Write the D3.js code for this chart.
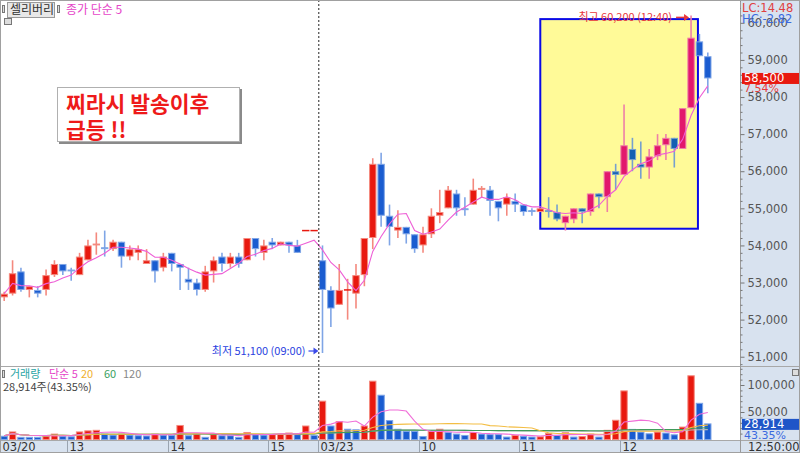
<!DOCTYPE html>
<html><head><meta charset="utf-8">
<script src="https://cdn.jsdelivr.net/npm/d3@7"></script>
<style>
body{margin:0;background:#fff;}
svg{display:block;font-family:"DejaVu Sans","Noto Sans CJK KR",sans-serif;}
</style>
</head><body>
<svg id="c" width="800" height="453"></svg>
<script>
// ---------------- DATA ----------------
const stockName = "셀리버리";
const sessions = [
  {date: "03/20", start: "12:20", count: 38},
  {date: "03/23", start: "09:00", count: 47}
];
const opens  = [52600,52700,53300,52800,52800,52800,53200,53500,53350,53200,53600,54000,53950,53900,54100,53700,53800,53500,53600,53400,53800,53500,53100,53000,52800,53300,53700,53500,53700,53600,54200,53800,54100,54000,54100,54000,54400,54400,
                53600,52800,52400,52800,52700,53200,54200,56200,54800,54400,54500,54300,54000,54300,54800,55000,55400,55000,55100,55500,55500,55200,55100,55200,55100,54950,54900,54950,54900,54600,54700,55000,54900,55400,55300,56000,55900,56600,56200,56100,56400,56700,56900,56600,57700,59500,59100];
const highs  = [52750,53600,53400,52900,52900,53350,53600,53500,53400,53800,54150,54350,54400,54150,54100,54000,54000,53900,53600,53800,53800,53500,53400,53100,53450,53700,53800,53800,53800,54200,54200,54150,54200,54100,54100,54150,54400,54400,
                54000,52900,53500,53100,53500,54200,56350,56500,55100,54950,54500,54300,54500,55000,55500,55600,55500,55300,55800,55600,55600,55200,55400,55400,55100,55000,55000,55300,55100,54800,55000,55000,55400,55400,56000,56200,57800,56900,56800,56600,57000,57000,56900,57700,60200,59700,59200];
const lows   = [52500,52650,52750,52600,52600,52650,53150,53200,53050,53200,53600,53750,53700,53850,53400,53600,53600,53500,53000,53300,53300,52800,52800,52650,52750,53000,53300,53400,53400,53600,53700,53600,53900,54000,53800,53800,54400,54400,
                51100,51800,52400,52000,52300,52900,53900,54500,54000,54200,54050,53800,53800,54200,54600,55000,54800,54800,55100,55300,54800,54650,54800,54900,54800,54800,54900,54750,54650,54400,54600,54600,54800,55000,54900,55500,55900,56000,55800,55800,56300,56300,56100,56600,57700,59100,58100];
const closes = [52700,53250,52800,52900,52700,53200,53500,53300,53300,53700,54000,54050,53900,54100,53700,53900,53900,53600,53300,53700,53500,53400,53000,52800,53300,53600,53500,53700,53500,54200,53900,54000,54000,54100,54000,53800,54400,54400,
                52800,52300,52800,52800,53200,54200,56200,54800,54500,54500,54300,53900,54300,54800,54900,55500,55000,54950,55500,55550,55200,55000,55300,55100,54900,54900,55000,54900,54700,54800,55000,54900,55400,55300,56000,55900,56700,56300,56100,56400,56700,56900,56600,57700,59600,59100,58500];
const volumes = [6000,14000,4000,4000,4000,6000,10000,6000,5000,14000,16000,17000,10000,8000,10000,8000,7000,6500,10000,8000,7500,26000,7000,10000,4000,9000,7000,7000,4000,13000,9000,8000,9000,9500,12000,9000,25000,7500,
                 71000,25000,33000,19000,18000,25000,108000,82000,35000,19000,15000,15000,5600,15000,19000,13000,10000,7500,13000,10000,9000,9000,4500,7500,6000,4500,5000,11000,7500,12500,4500,5500,10000,4500,17000,35600,90000,18700,13700,10600,13700,11900,8700,23000,118000,67000,28914];
const priceTicks = [51000,52000,53000,54000,55000,56000,57000,58000,59000,60000];
const volumeTicks = [50000,100000];
const timeTickIndex  = [0,8,20,32,38,50,62,74];
const timeTickLabels = ["03/20","13","14","15","03/23","10","11","12"];
const lastTimeLabel = "12:50:00";
const highlight = {from: 64, to: 83, low: 54450, high: 60100};
const noteLines = ["찌라시 발송이후", "급등 !!"];
const volumeRatio = "43.35%";
const volumeLegend = [["거래량", "#2aa5a5"], ["단순 5", "#e545c8"], ["20", "#f0b030"], ["60", "#3aa060"], ["120", "#888"]];

// ---------------- SETUP ----------------
const svg = d3.select("#c");
const W = 800, H = 453, plotR = 740, priceBot = 366, volTop = 367, volBot = 440;
const N = closes.length;
const fmt = d3.format(",");

const times = [];
sessions.forEach(s => {
  const [hh, mm] = s.start.split(":").map(Number);
  for (let k = 0; k < s.count; k++) {
    const t = hh * 60 + mm + 5 * k;
    times.push(String(Math.floor(t / 60)).padStart(2, "0") + ":" + String(t % 60).padStart(2, "0"));
  }
});

const x = d3.scaleBand().domain(d3.range(N)).range([0, 712]).paddingInner(0.12).paddingOuter(0.06);
const bw = x.bandwidth();
const cx = i => x(i) + bw / 2;
const slotLeft = i => x(i) - x.step() * 0.06;
const y = d3.scaleLinear().domain([50750, 60615]).range([priceBot, 0]);
const vy = d3.scaleLinear().domain([0, 100000]).range([439, 385]);

const up = [];
for (let i = 0; i < N; i++) {
  if (closes[i] > opens[i]) up.push(true);
  else if (closes[i] < opens[i]) up.push(false);
  else if (i > 0 && closes[i] > closes[i - 1]) up.push(true);
  else if (i > 0 && closes[i] < closes[i - 1]) up.push(false);
  else up.push(i > 0 ? up[i - 1] : true);
}
const inBox = i => i > highlight.from && i < highlight.to;
const COL = {
  red: "#e8190f", redL: "#f4897e", blue: "#1a5cd0", blueL: "#7fa5e6",
  redB: "#e2186c", redBL: "#ee7fa8", blueB: "#1360b2", blueBL: "#76a0cf"
};
function candleColor(i) {
  if (inBox(i)) return up[i] ? [COL.redB, COL.redBL] : [COL.blueB, COL.blueBL];
  return up[i] ? [COL.red, COL.redL] : [COL.blue, COL.blueL];
}
function sma(arr, n) {
  return arr.map((_, i) => d3.mean(arr.slice(Math.max(0, i - n + 1), i + 1)));
}

// ---------------- BACKGROUND ----------------
svg.append("rect").attr("width", W).attr("height", H).attr("fill", "#fff");
svg.append("rect").attr("x", plotR).attr("y", 0).attr("width", W - plotR).attr("height", H).attr("fill", "#d8e2ef");
svg.append("rect").attr("x", 0).attr("y", volBot).attr("width", plotR).attr("height", H - volBot).attr("fill", "#d8e2ef");

svg.append("clipPath").attr("id", "pclip").append("rect").attr("x", 0).attr("y", 0).attr("width", plotR).attr("height", priceBot);
svg.append("clipPath").attr("id", "vclip").append("rect").attr("x", 0).attr("y", volTop).attr("width", plotR).attr("height", volBot - volTop);

const pg = svg.append("g").attr("clip-path", "url(#pclip)");

// highlight box
pg.append("rect")
  .attr("x", cx(highlight.from)).attr("y", y(highlight.high))
  .attr("width", cx(highlight.to) - 1.5 - cx(highlight.from))
  .attr("height", y(highlight.low) - y(highlight.high))
  .attr("fill", "#fffa98").attr("stroke", "#0a0ae6").attr("stroke-width", 2);

// day separator
const dayIdx = sessions[0].count;
svg.append("line").attr("x1", slotLeft(dayIdx) + 0.5).attr("x2", slotLeft(dayIdx) + 0.5)
  .attr("y1", 0).attr("y2", volBot).attr("stroke", "#222").attr("stroke-dasharray", "2,2").attr("stroke-width", 1);

// candles
const cg = pg.append("g");
for (let i = 0; i < N; i++) {
  const [c, cl] = candleColor(i);
  cg.append("line").attr("x1", cx(i)).attr("x2", cx(i)).attr("y1", y(highs[i])).attr("y2", y(lows[i]))
    .attr("stroke", cl).attr("stroke-width", 1.6);
  const top = y(Math.max(opens[i], closes[i])), bot = y(Math.min(opens[i], closes[i]));
  if (bot - top < 1.5) {
    cg.append("line").attr("x1", x(i)).attr("x2", x(i) + bw).attr("y1", (top + bot) / 2).attr("y2", (top + bot) / 2)
      .attr("stroke", c).attr("stroke-width", 1.5);
  } else {
    cg.append("rect").attr("x", x(i) + 0.5).attr("y", top + 0.5).attr("width", bw - 1).attr("height", bot - top - 1)
      .attr("fill", c).attr("stroke", cl).attr("stroke-width", 1);
  }
}
const ma5 = sma(closes, 5);
pg.append("path").datum(ma5)
  .attr("d", d3.line().x((d, i) => cx(i)).y(d => y(d)))
  .attr("fill", "none").attr("stroke", "#ee5fd6").attr("stroke-width", 1.1);

// high / low annotations
const hi = d3.maxIndex(highs), lo = d3.minIndex(lows);
const hy = y(highs[hi]) + 2;
svg.append("text").attr("x", cx(hi) - 19).attr("y", hy).attr("dy", "0.35em").attr("text-anchor", "end")
  .attr("font-family", "Noto Sans CJK KR").attr("font-size", 11).attr("fill", "#e8383c")
  .text("최고 " + fmt(highs[hi]) + " (" + times[hi] + ")");
svg.append("line").attr("x1", cx(hi) - 15).attr("x2", cx(hi) - 6).attr("y1", hy).attr("y2", hy).attr("stroke", "#e8383c").attr("stroke-width", 1.5);
svg.append("path").attr("d", `M${cx(hi) - 7},${hy - 3.5}L${cx(hi) - 2},${hy}L${cx(hi) - 7},${hy + 3.5}Z`).attr("fill", "#e8383c");
const ly = y(lows[lo]) - 2;
svg.append("text").attr("x", cx(lo) - 17).attr("y", ly).attr("dy", "0.35em").attr("text-anchor", "end")
  .attr("font-family", "Noto Sans CJK KR").attr("font-size", 11).attr("fill", "#2a3fe0")
  .text("최저 " + fmt(lows[lo]) + " (" + times[lo] + ")");
svg.append("line").attr("x1", cx(lo) - 14).attr("x2", cx(lo) - 8).attr("y1", ly).attr("y2", ly).attr("stroke", "#5a6af0").attr("stroke-width", 1.5);
svg.append("path").attr("d", `M${cx(lo) - 9},${ly - 3.5}L${cx(lo) - 4},${ly}L${cx(lo) - 9},${ly + 3.5}Z`).attr("fill", "#3a4ae8");

// note box
const nb = svg.append("g");
nb.append("rect").attr("x", 59).attr("y", 89).attr("width", 183).attr("height", 55).attr("fill", "#8a8a8a");
nb.append("rect").attr("x", 57.5).attr("y", 87.5).attr("width", 182).attr("height", 54).attr("fill", "#fff").attr("stroke", "#b0b0b0");
noteLines.forEach((t, k) => {
  nb.append("text").attr("x", 66).attr("y", 112 + k * 26)
    .attr("font-family", "Noto Sans CJK KR").attr("font-weight", "bold").attr("font-size", 21.5)
    .attr("fill", "#ee1a1a").text(t);
});

// ---------------- VOLUME ----------------
const vg = svg.append("g").attr("clip-path", "url(#vclip)");
for (let i = 0; i < N; i++) {
  const upv = i > 0 && volumes[i] > volumes[i - 1];
  const c = upv ? "#e8190f" : "#1a5cd0", cl = upv ? "#f4897e" : "#7fa5e6";
  vg.append("rect").attr("x", x(i) + 0.5).attr("y", vy(volumes[i]) + 0.5)
    .attr("width", bw - 1).attr("height", Math.max(0.5, vy(0) - vy(volumes[i])))
    .attr("fill", c).attr("stroke", cl).attr("stroke-width", 1);
}
const vLine = d3.line().x((d, i) => cx(i)).y(d => vy(d));
[[120, "#b8b8b8"], [60, "#3f9a5a"], [20, "#f3be45"], [5, "#f06fd8"]].forEach(([n, c]) => {
  vg.append("path").datum(sma(volumes, n)).attr("d", vLine).attr("fill", "none").attr("stroke", c).attr("stroke-width", 1.1);
});

// ---------------- AXES ----------------
svg.append("line").attr("x1", 0).attr("x2", W).attr("y1", priceBot + 0.5).attr("y2", priceBot + 0.5).attr("stroke", "#a8a8a8");
svg.append("line").attr("x1", 0).attr("x2", W).attr("y1", volBot + 0.5).attr("y2", volBot + 0.5).attr("stroke", "#a8a8a8");
svg.append("line").attr("x1", plotR + 0.5).attr("x2", plotR + 0.5).attr("y1", 0).attr("y2", H).attr("stroke", "#9a9a9a");

const minorTicks = d3.range(50800, 60601, 200).filter(v => v % 1000 !== 0);
const pa = svg.append("g").attr("transform", `translate(${plotR + 0.5},0)`);
pa.call(d3.axisRight(y).tickValues(minorTicks).tickSize(2).tickFormat(""));
pa.call(g => g.select(".domain").remove());
const pa2 = svg.append("g").attr("transform", `translate(${plotR + 0.5},0)`);
pa2.call(d3.axisRight(y).tickValues(priceTicks).tickSize(4).tickPadding(3).tickFormat(fmt));
pa2.call(g => g.select(".domain").remove());
svg.selectAll(".tick line").attr("stroke", "#777");
pa2.selectAll("text").attr("font-size", 11.5).attr("fill", "#555").attr("font-family", "DejaVu Sans");

const va = svg.append("g").attr("transform", `translate(${plotR + 0.5},0)`);
va.call(d3.axisRight(vy).tickValues(d3.range(10000, 130001, 10000).filter(v => v % 50000)).tickSize(2).tickFormat(""));
va.call(g => g.select(".domain").remove());
const va2 = svg.append("g").attr("transform", `translate(${plotR + 0.5},0)`);
va2.call(d3.axisRight(vy).tickValues(volumeTicks).tickSize(4).tickPadding(3).tickFormat(fmt));
va2.call(g => g.select(".domain").remove());
va.selectAll(".tick line").attr("stroke", "#777");
va2.selectAll(".tick line").attr("stroke", "#777");
va2.selectAll("text").attr("font-size", 11.5).attr("fill", "#555").attr("font-family", "DejaVu Sans");

// LC / HC
const last = closes[N - 1];
const lc = (last - lows[lo]) / lows[lo] * 100, hc = (last - highs[hi]) / highs[hi] * 100;
svg.append("rect").attr("x", plotR + 1).attr("y", 0).attr("width", W - plotR - 1).attr("height", 13).attr("fill", "#d8e2ef");
svg.append("text").attr("x", 742).attr("y", 7.5).attr("dy", "0.35em").attr("font-size", 11.5).attr("fill", "#e04040")
  .attr("font-family", "DejaVu Sans").text("LC:" + lc.toFixed(2));
svg.append("text").attr("x", 742).attr("y", 18.5).attr("dy", "0.35em").attr("font-size", 11.5).attr("fill", "#3a6ae0")
  .attr("font-family", "DejaVu Sans").text("HC:" + hc.toFixed(2));

// current price box
const prevClose = closes[sessions[0].count - 1];
const chg = (last - prevClose) / prevClose * 100;
svg.append("rect").attr("x", 742).attr("y", y(last) - 5.5).attr("width", 58).attr("height", 11).attr("fill", "#e8190f");
svg.append("text").attr("x", 744).attr("y", y(last)).attr("dy", "0.35em").attr("font-size", 11.5).attr("fill", "#fff")
  .attr("font-family", "DejaVu Sans").text(fmt(last));
svg.append("text").attr("x", 744).attr("y", y(last) + 10).attr("dy", "0.35em").attr("font-size", 11).attr("fill", "#e83a3a")
  .attr("font-family", "DejaVu Sans").text(chg.toFixed(2) + "%");

// current volume box
const lastV = volumes[N - 1];
svg.append("rect").attr("x", 742).attr("y", vy(lastV) - 4.5).attr("width", 58).attr("height", 11).attr("fill", "#1f55c8");
svg.append("text").attr("x", 744).attr("y", vy(lastV) + 1).attr("dy", "0.35em").attr("font-size", 11.5).attr("fill", "#fff")
  .attr("font-family", "DejaVu Sans").text(fmt(lastV));
svg.append("text").attr("x", 744).attr("y", vy(lastV) + 11.5).attr("dy", "0.35em").attr("font-size", 11).attr("fill", "#3a6ae0")
  .attr("font-family", "DejaVu Sans").text(volumeRatio);

// time axis
const ta = svg.append("g");
timeTickIndex.forEach((idx, k) => {
  const xx = Math.round(slotLeft(idx)) + 0.5;
  if (k > 0) ta.append("line").attr("x1", xx).attr("x2", xx).attr("y1", volBot).attr("y2", H).attr("stroke", "#9aa4b0");
  ta.append("text").attr("x", xx + 2).attr("y", 447).attr("dy", "0.35em").attr("font-size", 11.5).attr("fill", "#333")
    .attr("font-family", "DejaVu Sans").text(timeTickLabels[k]);
});
svg.append("text").attr("x", 748).attr("y", 447).attr("dy", "0.35em").attr("font-size", 11.5).attr("fill", "#333")
  .attr("font-family", "DejaVu Sans").text(lastTimeLabel);

// ---------------- HEADERS ----------------
function icon(xx, yy, w, h) {
  svg.append("rect").attr("x", xx + 0.5).attr("y", yy + 0.5).attr("width", w).attr("height", h).attr("fill", "#ddd").attr("stroke", "#777");
}
icon(2, 5, 2, 7);
svg.append("rect").attr("x", 7.5).attr("y", 2.5).attr("width", 47).attr("height", 15).attr("fill", "#e8e8e8").attr("stroke", "#9a9a9a");
svg.append("text").attr("x", 10).attr("y", 10).attr("dy", "0.35em").attr("font-family", "Noto Sans CJK KR").attr("font-size", 12)
  .attr("fill", "#333").text(stockName);
icon(57, 5, 2, 7);
svg.append("text").attr("x", 66).attr("y", 10).attr("dy", "0.35em").attr("font-family", "Noto Sans CJK KR").attr("font-size", 12)
  .attr("fill", "#e545c8").text("종가 단순 5");
icon(4, 18, 7, 6);

icon(2, 370, 2, 7);
const legendX = [10, 49, 81, 104, 123];
volumeLegend.forEach(([t, c], k) => {
  svg.append("text").attr("x", legendX[k]).attr("y", 374).attr("dy", "0.35em").attr("font-family", "Noto Sans CJK KR")
    .attr("font-size", 11).attr("fill", c).text(t);
});
svg.append("text").attr("x", 3).attr("y", 387.5).attr("dy", "0.35em").attr("font-family", "Noto Sans CJK KR").attr("font-size", 11)
  .attr("fill", "#444").text(fmt(lastV) + "주(" + volumeRatio + ")");
icon(792, 369, 6, 6);

svg.append("rect").attr("x", 0.5).attr("y", 0.5).attr("width", W - 1).attr("height", H - 1).attr("fill", "none").attr("stroke", "#a0a0a0");
</script>
</body></html>
